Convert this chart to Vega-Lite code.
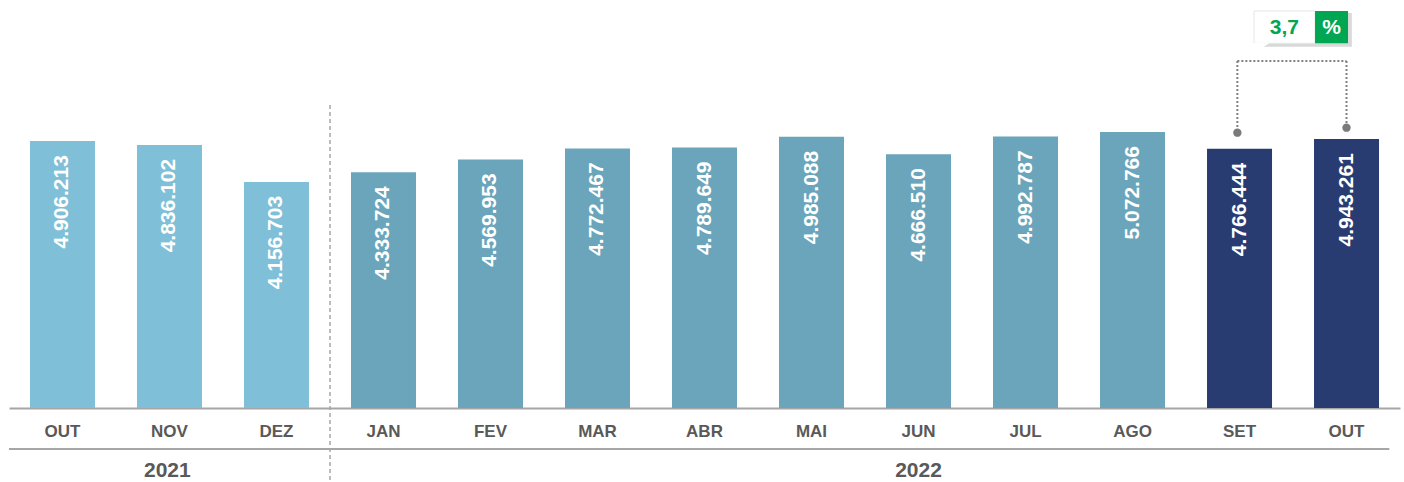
{
  "$schema": "https://vega.github.io/schema/vega-lite/v6.json",
  "width": 1391,
  "height": 408,
  "autosize": {"type": "none"},
  "padding": {"left": 9, "top": 0, "right": 4, "bottom": 74},
  "background": "white",
  "config": {"view": {"stroke": null}, "font": "Liberation Sans"},
  "datasets": {
    "bars": [
      {"key": "OUT21", "v": 4906213, "g": "a", "lbl": "4.906.213"},
      {"key": "NOV", "v": 4836102, "g": "a", "lbl": "4.836.102"},
      {"key": "DEZ", "v": 4156703, "g": "a", "lbl": "4.156.703"},
      {"key": "JAN", "v": 4333724, "g": "b", "lbl": "4.333.724"},
      {"key": "FEV", "v": 4569953, "g": "b", "lbl": "4.569.953"},
      {"key": "MAR", "v": 4772467, "g": "b", "lbl": "4.772.467"},
      {"key": "ABR", "v": 4789649, "g": "b", "lbl": "4.789.649"},
      {"key": "MAI", "v": 4985088, "g": "b", "lbl": "4.985.088"},
      {"key": "JUN", "v": 4666510, "g": "b", "lbl": "4.666.510"},
      {"key": "JUL", "v": 4992787, "g": "b", "lbl": "4.992.787"},
      {"key": "AGO", "v": 5072766, "g": "b", "lbl": "5.072.766"},
      {"key": "SET", "v": 4766444, "g": "c", "lbl": "4.766.444"},
      {"key": "OUT22", "v": 4943261, "g": "c", "lbl": "4.943.261"}
    ],
    "dotted": [
      {"x": 11.48, "x2": 12.5, "y": 6379000, "y2": 6379000},
      {"x": 11.48, "x2": 11.48, "y": 6379000, "y2": 5061000},
      {"x": 12.5, "x2": 12.5, "y": 6379000, "y2": 5153000}
    ],
    "dots": [
      {"x": 11.48, "y": 5061000},
      {"x": 12.5, "y": 5153000}
    ],
    "divider": [{"x": 3, "x2": 3, "y": 5570000, "y2": -1360000}],
    "lowerline": [{"x": 0, "x2": 12.9, "y": -754000, "y2": -754000}],
    "years": [
      {"x": 1.48, "y": -1150000, "t": "2021"},
      {"x": 8.5, "y": -1150000, "t": "2022"}
    ],
    "shadow": [{"x": 11.66, "x2": 12.55, "y": 7260000, "y2": 6640000}],
    "whitebox": [{"x": 11.636, "x2": 12.206, "y": 7298000, "y2": 6704000}],
    "greenbox": [{"x": 12.206, "x2": 12.514, "y": 7298000, "y2": 6704000}],
    "tail": [
      {"x": 11.636, "y": 6712000, "y2": 6531000},
      {"x": 11.785, "y": 6712000, "y2": 6712000}
    ],
    "pct": [{"x": 11.92, "y": 6994000, "t": "3,7"}],
    "pctsign": [{"x": 12.36, "y": 6994000, "t": "%"}]
  },
  "layer": [
    {
      "data": {"name": "bars"},
      "encoding": {
        "x": {
          "field": "key",
          "type": "nominal",
          "sort": null,
          "scale": {"paddingInner": 0.3925, "paddingOuter": 0.196},
          "axis": {
            "title": null,
            "labelExpr": "slice(datum.value,0,3)",
            "labelAngle": 0,
            "labelFont": "Liberation Sans",
            "labelFontSize": 17,
            "labelFontWeight": "bold",
            "labelColor": "#595959",
            "labelPadding": 23,
            "labelBaseline": "middle",
            "ticks": false,
            "domainColor": "#a6a6a6",
            "domainWidth": 2,
            "grid": false
          }
        },
        "y": {"field": "v", "type": "quantitative", "scale": {"domain": [0, 7500000], "nice": false}, "axis": null}
      },
      "layer": [
        {
          "mark": {"type": "bar"},
          "encoding": {
            "color": {
              "field": "g",
              "type": "nominal",
              "scale": {"domain": ["a", "b", "c"], "range": ["#80bfd8", "#6aa5bb", "#283c72"]},
              "legend": null
            }
          }
        },
        {
          "mark": {"type": "text", "angle": 270, "align": "right", "baseline": "middle", "dx": -14, "fontSize": 21, "fontWeight": "bold", "color": "white", "font": "Liberation Sans"},
          "encoding": {"text": {"field": "lbl", "type": "nominal"}}
        }
      ]
    },
    {
      "encoding": {
        "x": {"field": "x", "type": "quantitative", "scale": {"domain": [0, 13], "nice": false, "zero": false}, "axis": null},
        "y": {"field": "y", "type": "quantitative", "scale": {"domain": [0, 7500000], "nice": false}, "axis": null}
      },
      "layer": [
        {
          "data": {"name": "divider"},
          "mark": {"type": "rule", "color": "#a6a6a6", "strokeWidth": 1.5, "strokeDash": [4, 3]},
          "encoding": {"x2": {"field": "x2"}, "y2": {"field": "y2"}}
        },
        {
          "data": {"name": "lowerline"},
          "mark": {"type": "rule", "color": "#a6a6a6", "strokeWidth": 2},
          "encoding": {"x2": {"field": "x2"}, "y2": {"field": "y2"}}
        },
        {
          "data": {"name": "years"},
          "mark": {"type": "text", "fontSize": 21, "fontWeight": "bold", "color": "#595959", "baseline": "middle", "align": "center", "font": "Liberation Sans"},
          "encoding": {"text": {"field": "t", "type": "nominal"}}
        },
        {
          "data": {"name": "dotted"},
          "mark": {"type": "rule", "color": "#808080", "strokeWidth": 2, "strokeDash": [2, 2]},
          "encoding": {"x2": {"field": "x2"}, "y2": {"field": "y2"}}
        },
        {
          "data": {"name": "dots"},
          "mark": {"type": "point", "filled": true, "size": 70, "color": "#7a7a7a", "opacity": 1},
          "encoding": {}
        },
        {
          "data": {"name": "shadow"},
          "mark": {"type": "rect", "color": "#cfcfcf", "opacity": 0.8},
          "encoding": {"x2": {"field": "x2"}, "y2": {"field": "y2"}}
        },
        {
          "data": {"name": "whitebox"},
          "mark": {"type": "rect", "color": "white", "stroke": "#e6e6e6", "strokeWidth": 1},
          "encoding": {"x2": {"field": "x2"}, "y2": {"field": "y2"}}
        },
        {
          "data": {"name": "tail"},
          "mark": {"type": "area", "color": "white", "opacity": 1},
          "encoding": {"y2": {"field": "y2"}}
        },
        {
          "data": {"name": "greenbox"},
          "mark": {"type": "rect", "color": "#00a651"},
          "encoding": {"x2": {"field": "x2"}, "y2": {"field": "y2"}}
        },
        {
          "data": {"name": "pct"},
          "mark": {"type": "text", "fontSize": 21, "fontWeight": "bold", "color": "#00a651", "baseline": "middle", "align": "center", "font": "Liberation Sans"},
          "encoding": {"text": {"field": "t", "type": "nominal"}}
        },
        {
          "data": {"name": "pctsign"},
          "mark": {"type": "text", "fontSize": 21, "fontWeight": "bold", "color": "white", "baseline": "middle", "align": "center", "font": "Liberation Sans"},
          "encoding": {"text": {"field": "t", "type": "nominal"}}
        }
      ]
    }
  ],
  "resolve": {"scale": {"x": "independent"}}
}
